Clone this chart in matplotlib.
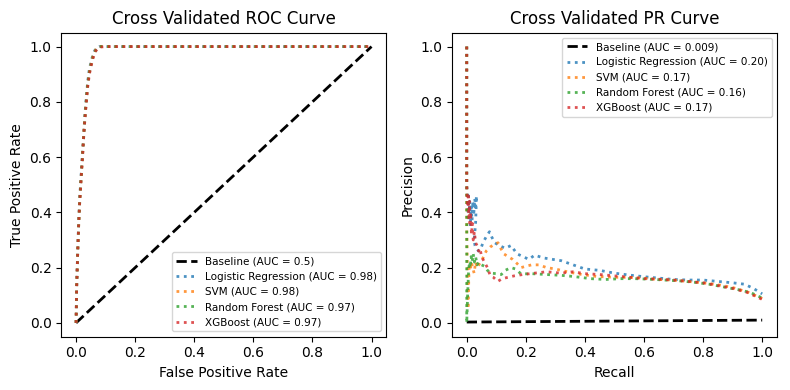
import numpy as np
import matplotlib
matplotlib.use("Agg")
import matplotlib.pyplot as plt

models = ["Logistic Regression", "SVM", "Random Forest", "XGBoost"]
colors = ["#1f77b4", "#ff7f0e", "#2ca02c", "#d62728"]
roc_auc = ["0.98", "0.98", "0.97", "0.97"]
pr_auc = ["0.20", "0.17", "0.16", "0.17"]
roc_baseline_auc = "0.5"
pr_baseline_auc = "0.009"

# ROC: shared FPR grid, per-model TPR
roc_fpr = [0, 0.002, 0.004, 0.006, 0.009, 0.012, 0.015, 0.018, 0.022, 0.025, 0.028,
           0.031, 0.035, 0.039, 0.045, 0.052, 0.058, 0.067, 0.079, 0.1, 1.0]
lr_tpr = [0, 0.13, 0.21, 0.28, 0.37, 0.45, 0.50, 0.55, 0.62, 0.67, 0.72,
          0.77, 0.82, 0.87, 0.92, 0.95, 0.975, 0.993, 1.0, 1.0, 1.0]
svm_tpr = [0, 0.13, 0.20, 0.27, 0.36, 0.44, 0.49, 0.54, 0.61, 0.67, 0.72,
           0.76, 0.81, 0.86, 0.91, 0.945, 0.97, 0.99, 1.0, 1.0, 1.0]
rf_tpr = [0, 0.13, 0.20, 0.27, 0.36, 0.43, 0.49, 0.54, 0.61, 0.66, 0.71,
          0.76, 0.81, 0.86, 0.905, 0.94, 0.965, 0.987, 1.0, 1.0, 1.0]
xgb_tpr = [0, 0.13, 0.20, 0.27, 0.36, 0.43, 0.48, 0.54, 0.60, 0.66, 0.71,
           0.75, 0.80, 0.85, 0.90, 0.935, 0.96, 0.985, 0.998, 1.0, 1.0]

# PR curves: (recall, precision) pairs
lr_pr = [(0, 1.0), (0, 0.5), (0.002, 0.45), (0.004, 0.38), (0.006, 0.46), (0.008, 0.40),
         (0.010, 0.44), (0.012, 0.35), (0.015, 0.42), (0.018, 0.37), (0.021, 0.44),
         (0.024, 0.40), (0.027, 0.45), (0.030, 0.42), (0.033, 0.46), (0.030, 0.36),
         (0.025, 0.30), (0.028, 0.28), (0.033, 0.27), (0.040, 0.26), (0.048, 0.27),
         (0.055, 0.29), (0.065, 0.31), (0.077, 0.33), (0.085, 0.31), (0.095, 0.29),
         (0.11, 0.28), (0.13, 0.27), (0.15, 0.28), (0.17, 0.25), (0.19, 0.24),
         (0.21, 0.23), (0.23, 0.245), (0.26, 0.235), (0.29, 0.23), (0.32, 0.225),
         (0.36, 0.21), (0.40, 0.195), (0.45, 0.19), (0.50, 0.18), (0.55, 0.173),
         (0.60, 0.167), (0.65, 0.162), (0.70, 0.157), (0.75, 0.155), (0.80, 0.155),
         (0.85, 0.15), (0.90, 0.145), (0.94, 0.14), (0.97, 0.125), (1.0, 0.105)]
svm_pr = [(0, 1.0), (0, 0.35), (0.002, 0.2), (0.004, 0.05), (0.006, 0.12), (0.008, 0.2),
          (0.012, 0.19), (0.016, 0.22), (0.02, 0.2), (0.025, 0.18), (0.03, 0.22),
          (0.035, 0.2), (0.044, 0.215), (0.055, 0.235), (0.066, 0.26), (0.08, 0.275),
          (0.095, 0.285), (0.106, 0.29), (0.115, 0.27), (0.125, 0.25), (0.14, 0.24),
          (0.155, 0.23), (0.17, 0.215), (0.184, 0.2), (0.2, 0.205), (0.22, 0.21),
          (0.245, 0.21), (0.27, 0.2), (0.3, 0.195), (0.34, 0.185), (0.39, 0.175),
          (0.44, 0.168), (0.5, 0.165), (0.55, 0.165), (0.6, 0.162), (0.65, 0.157),
          (0.7, 0.155), (0.75, 0.15), (0.8, 0.145), (0.85, 0.138), (0.9, 0.128),
          (0.95, 0.112), (1.0, 0.088)]
rf_pr = [(0, 1.0), (0, 0.0), (0.003, 0.1), (0.006, 0.18), (0.009, 0.22), (0.012, 0.20),
         (0.015, 0.24), (0.018, 0.22), (0.022, 0.25), (0.026, 0.22), (0.030, 0.24),
         (0.035, 0.21), (0.04, 0.22), (0.05, 0.21), (0.06, 0.205), (0.07, 0.19),
         (0.083, 0.18), (0.1, 0.178), (0.117, 0.175), (0.13, 0.19), (0.15, 0.2),
         (0.165, 0.195), (0.184, 0.177), (0.22, 0.178), (0.27, 0.175), (0.32, 0.172),
         (0.36, 0.168), (0.42, 0.16), (0.47, 0.157), (0.52, 0.16), (0.57, 0.16),
         (0.62, 0.158), (0.67, 0.155), (0.72, 0.152), (0.77, 0.147), (0.82, 0.14),
         (0.87, 0.13), (0.92, 0.12), (0.96, 0.11), (1.0, 0.09)]
xgb_pr = [(0, 1.0), (0, 0.5), (0.003, 0.42), (0.005, 0.47), (0.007, 0.38), (0.009, 0.44),
          (0.011, 0.35), (0.013, 0.40), (0.016, 0.32), (0.019, 0.36), (0.022, 0.30),
          (0.026, 0.33), (0.030, 0.29), (0.035, 0.28), (0.040, 0.26), (0.045, 0.27),
          (0.050, 0.24), (0.060, 0.22), (0.070, 0.20), (0.080, 0.17), (0.090, 0.165),
          (0.105, 0.15), (0.12, 0.16), (0.14, 0.165), (0.16, 0.17), (0.19, 0.175),
          (0.23, 0.18), (0.27, 0.185), (0.32, 0.18), (0.36, 0.185), (0.40, 0.178),
          (0.45, 0.175), (0.50, 0.17), (0.55, 0.165), (0.60, 0.16), (0.65, 0.158),
          (0.70, 0.155), (0.75, 0.15), (0.80, 0.145), (0.85, 0.135), (0.90, 0.125),
          (0.95, 0.11), (1.0, 0.085)]

roc_baseline_x = [0, 1]
roc_baseline_y = [0, 1]
pr_baseline_x = [0, 1]
pr_baseline_y = [0.003, 0.010]

fig, (ax1, ax2) = plt.subplots(1, 2, figsize=(7.9, 3.9), dpi=100)

ax1.plot(roc_baseline_x, roc_baseline_y, "k--", lw=2, label=f"Baseline (AUC = {roc_baseline_auc})")
for name, c, auc, tpr in zip(models, colors, roc_auc, [lr_tpr, svm_tpr, rf_tpr, xgb_tpr]):
    ax1.plot(roc_fpr, tpr, ls=":", lw=2, color=c, alpha=0.8, label=f"{name} (AUC = {auc})")
ax1.set_title("Cross Validated ROC Curve")
ax1.set_xlabel("False Positive Rate")
ax1.set_ylabel("True Positive Rate")
ax1.legend(loc="lower right", fontsize=7.5)

ax2.plot(pr_baseline_x, pr_baseline_y, "k--", lw=2, label=f"Baseline (AUC = {pr_baseline_auc})")
for name, c, auc, pr in zip(models, colors, pr_auc, [lr_pr, svm_pr, rf_pr, xgb_pr]):
    r, p = np.array(pr).T
    ax2.plot(r, p, ls=":", lw=2, color=c, alpha=0.8, label=f"{name} (AUC = {auc})")
ax2.set_title("Cross Validated PR Curve")
ax2.set_xlabel("Recall")
ax2.set_ylabel("Precision")
ax2.legend(loc="upper right", fontsize=7.5)

fig.subplots_adjust(left=0.0776, right=0.9835, top=0.916, bottom=0.1367, wspace=0.202)
fig.savefig("out.png", dpi=100)
